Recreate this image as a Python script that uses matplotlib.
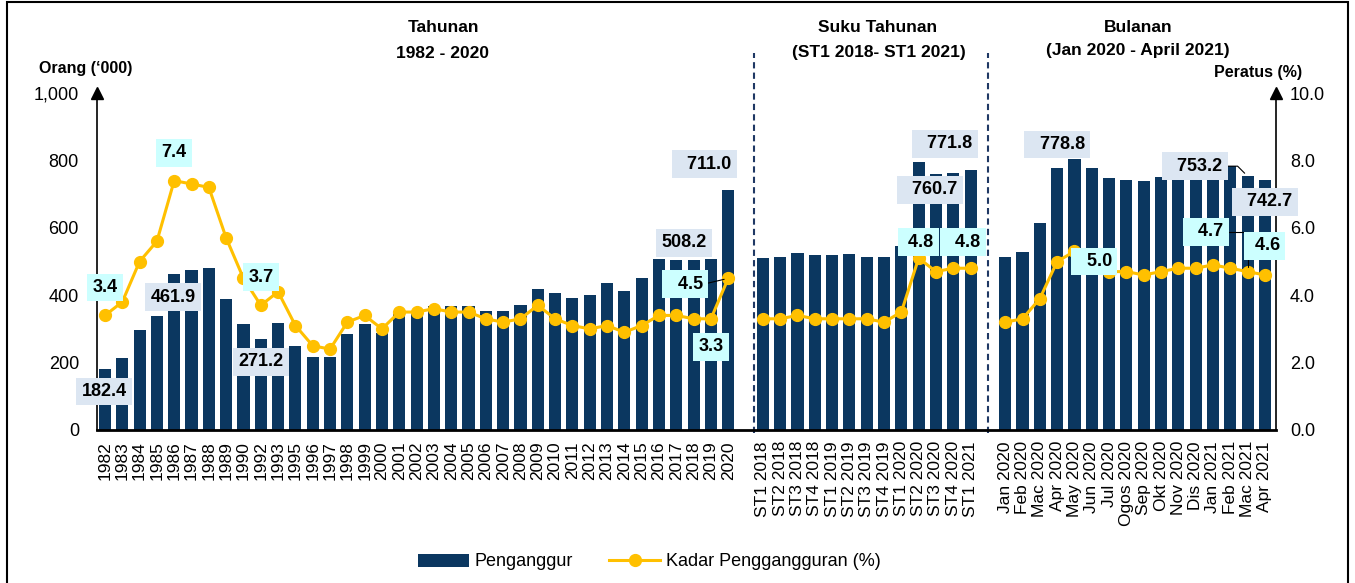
import matplotlib.pyplot as plt
from matplotlib.lines import Line2D
from matplotlib.patches import Patch, Rectangle
from matplotlib.ticker import FuncFormatter

plt.rcParams['font.family'] = ['Liberation Sans', 'DejaVu Sans']

# Data
annual_labels = ['1982', '1983', '1984', '1985', '1986', '1987', '1988', '1989', '1990',
                 '1992', '1993', '1995', '1996', '1997', '1998', '1999', '2000',
                 '2001', '2002', '2003', '2004', '2005', '2006', '2007', '2008', '2009',
                 '2010', '2011', '2012', '2013', '2014', '2015', '2016', '2017', '2018',
                 '2019', '2020']
annual_penganggur = [182.4, 215, 296, 338, 461.9, 475, 481, 390, 316,
                     271.2, 317, 250, 217, 216, 285, 314, 288,
                     350, 351, 369, 368, 368, 354, 352, 370, 419,
                     406, 391, 402, 437, 413, 452, 506, 505, 505,
                     508.2, 711.0]
annual_kadar = [3.4, 3.8, 5.0, 5.6, 7.4, 7.3, 7.2, 5.7, 4.5,
                3.7, 4.1, 3.1, 2.5, 2.4, 3.2, 3.4, 3.0,
                3.5, 3.5, 3.6, 3.5, 3.5, 3.3, 3.2, 3.3, 3.7,
                3.3, 3.1, 3.0, 3.1, 2.9, 3.1, 3.4, 3.4, 3.3,
                3.3, 4.5]

quarter_labels = ['ST1 2018', 'ST2 2018', 'ST3 2018', 'ST4 2018',
                  'ST1 2019', 'ST2 2019', 'ST3 2019', 'ST4 2019',
                  'ST1 2020', 'ST2 2020', 'ST3 2020', 'ST4 2020', 'ST1 2021']
quarter_penganggur = [510, 512, 526, 518, 518, 522, 513, 513, 547, 794, 760.7, 764, 771.8]
quarter_kadar = [3.3, 3.3, 3.4, 3.3, 3.3, 3.3, 3.3, 3.2, 3.5, 5.1, 4.7, 4.8, 4.8]

month_labels = ['Jan 2020', 'Feb 2020', 'Mac 2020', 'Apr 2020', 'May 2020', 'Jun 2020',
                'Jul 2020', 'Ogos 2020', 'Sep 2020', 'Okt 2020', 'Nov 2020', 'Dis 2020',
                'Jan 2021', 'Feb 2021', 'Mac 2021', 'Apr 2021']
month_penganggur = [513, 527, 613, 778.8, 805, 777, 747, 743, 740, 750, 748, 760,
                    765, 782, 753.2, 742.7]
month_kadar = [3.2, 3.3, 3.9, 5.0, 5.3, 4.9, 4.7, 4.7, 4.6, 4.7, 4.8, 4.8,
               4.9, 4.8, 4.7, 4.6]

NAVY = '#0b3760'
GOLD = '#ffc000'
BAR_BOX = '#dce6f2'
RATE_BOX = '#ccffff'
W, H = 1355, 583


def px(x, y):
    return x / W, 1 - y / H


# Positions: annual, gap, quarterly, gap, monthly
x_annual = list(range(len(annual_labels)))
q0 = len(annual_labels) + 1
x_quarter = [q0 + i for i in range(len(quarter_labels))]
m0 = q0 + len(quarter_labels) + 1
x_month = [m0 + i for i in range(len(month_labels))]

fig = plt.figure(figsize=(W / 100, H / 100), dpi=100)
ax = fig.add_axes([97 / W, 1 - 430 / H, (1276 - 97) / W, (430 - 93) / H])
ax2 = ax.twinx()

for xs, ys in [(x_annual, annual_penganggur), (x_quarter, quarter_penganggur),
               (x_month, month_penganggur)]:
    ax.bar(xs, ys, width=0.7, color=NAVY, zorder=2)

for xs, ys in [(x_annual, annual_kadar), (x_quarter, quarter_kadar),
               (x_month, month_kadar)]:
    ax2.plot(xs, ys, color=GOLD, lw=2.2, marker='o', ms=8.5, zorder=3)

ax.set_xlim(-0.46, x_month[-1] + 0.64)
ax.set_ylim(0, 1000)
ax2.set_ylim(0, 10)
ax.set_yticks(range(0, 1001, 200))
ax2.set_yticks(range(0, 11, 2))
ax.yaxis.set_major_formatter(FuncFormatter(lambda v, p: f"{v:,.0f}"))
ax2.yaxis.set_major_formatter(FuncFormatter(lambda v, p: f"{v:.1f}"))

ax.set_xticks(x_annual + x_quarter + x_month)
ax.set_xticklabels(annual_labels + quarter_labels + month_labels, rotation=90)
ax.tick_params(axis='x', length=0, pad=8, labelsize=12.5)
ax.tick_params(axis='y', length=0, pad=13, labelsize=13)
ax2.tick_params(axis='y', length=0, pad=10, labelsize=13)

for s in ['top', 'right']:
    ax.spines[s].set_visible(False)
for s in ['top', 'left', 'bottom']:
    ax2.spines[s].set_visible(False)
ax.spines['bottom'].set_linewidth(2)
ax.spines['left'].set_linewidth(1.2)
ax2.spines['right'].set_linewidth(1.2)
ax.plot([0], [1], marker='^', color='k', ms=8, transform=ax.transAxes, clip_on=False)
ax.plot([1], [1], marker='^', color='k', ms=8, transform=ax.transAxes, clip_on=False)

# Section dividers
for xd in [q0 - 0.5, m0 - 1]:
    ax.axvline(xd, ymin=-0.01, ymax=1.12, color='#1f3864', lw=1.5,
               ls=(0, (3, 2)), clip_on=False)


def label(x, y, text, off, face, coords, arrow=None):
    kw = {}
    if arrow:
        kw['arrowprops'] = dict(arrowstyle='-', color='k', lw=0.8, shrinkA=0,
                                shrinkB=3, relpos=(1, 0.5), connectionstyle=arrow)
    ax2.annotate(text, xy=(x, y), xycoords=coords, xytext=off,
                 textcoords='offset pixels', ha='center', va='center',
                 fontsize=13, fontweight='bold', zorder=6,
                 bbox=dict(boxstyle='square,pad=0.3', fc=face, ec='none'), **kw)


def bar_label(x, y, off, pre='', arrow=None):
    label(x, y, pre + f"{y:.1f}", off, BAR_BOX, ax.transData, arrow)


def rate_label(x, y, off, pre='', arrow=None):
    label(x, y, pre + f"{y:.1f}", off, RATE_BOX, ax2.transData, arrow)


bar_label(x_annual[0], annual_penganggur[0], (-1, -23))
bar_label(x_annual[4], annual_penganggur[4], (-1, -23))
bar_label(x_annual[9], annual_penganggur[9], (0, -23))
bar_label(x_annual[35], annual_penganggur[35], (-27, 16))
bar_label(x_annual[36], annual_penganggur[36], (-24, 26), '  ')
rate_label(x_annual[0], annual_kadar[0], (0, 28))
rate_label(x_annual[4], annual_kadar[4], (0, 28))
rate_label(x_annual[9], annual_kadar[9], (0, 28))
rate_label(x_annual[35], annual_kadar[35], (0, -28))
rate_label(x_annual[36], annual_kadar[36], (-43, -6), '  ', arrow='arc3')

bar_label(x_quarter[10], quarter_penganggur[10], (-6, -16), '  ')
bar_label(x_quarter[12], quarter_penganggur[12], (-26, 26), '  ')
rate_label(x_quarter[11], quarter_kadar[11], (-35, 26), ' ')
rate_label(x_quarter[12], quarter_kadar[12], (-8, 26), '  ')

bar_label(x_month[3], month_penganggur[3], (0, 23), '  ')
bar_label(x_month[14], month_penganggur[14], (-53, 10), '  ',
          arrow='angle,angleA=0,angleB=135,rad=0')
bar_label(x_month[15], month_penganggur[15], (0, -22), '  ')
rate_label(x_month[3], month_kadar[3], (37, 0), '  ')
rate_label(x_month[14], month_kadar[14], (-42, 40), '  ',
           arrow='angle,angleA=0,angleB=90,rad=0')
rate_label(x_month[15], month_kadar[15], (0, 29), ' ')

# Headings
title_kw = dict(ha='center', va='center', fontsize=12.5, fontweight='bold')
fig.text(*px(443, 27), 'Tahunan', **title_kw)
fig.text(*px(443, 53), '1982 - 2020', **title_kw)
fig.text(*px(878, 27), 'Suku Tahunan', **title_kw)
fig.text(*px(879, 53), '(ST1 2018- ST1 2021)', **title_kw)
fig.text(*px(1138, 27), 'Bulanan', **title_kw)
fig.text(*px(1138, 51), '(Jan 2020 - April 2021)', **title_kw)
fig.text(*px(86, 68), 'Orang (‘000)', ha='center', va='center', fontsize=11.5,
         fontweight='bold')
fig.text(*px(1258, 73), 'Peratus (%)', ha='center', va='center', fontsize=11.5,
         fontweight='bold')

handles = [Patch(fc=NAVY), Line2D([], [], color=GOLD, lw=2.2, marker='o', ms=8.5)]
fig.legend(handles, ['Penganggur', 'Kadar Penggangguran (%)'], loc='center',
           bbox_to_anchor=px(649, 562), ncol=2, frameon=False, fontsize=13,
           handlelength=2.85, handletextpad=0.3, columnspacing=2.0)

fig.patches.append(Rectangle(px(7, 600), (1348 - 7) / W, 598 / H, transform=fig.transFigure,
                             fill=False, ec='k', lw=1.5))

fig.savefig('out.png', dpi=100)
